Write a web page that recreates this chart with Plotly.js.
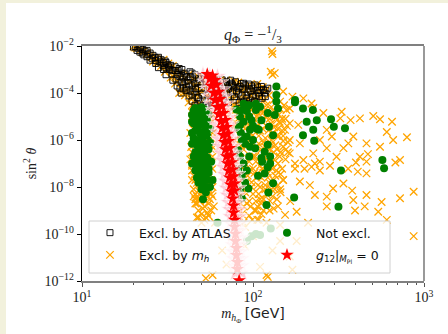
<!DOCTYPE html>
<html><head><meta charset="utf-8">
<script src="https://cdn.plot.ly/plotly-3.0.1.min.js"></script>
<style>html,body{margin:0;padding:0;background:#f2f1dc;width:448px;height:334px;overflow:hidden}#chart{position:absolute;left:6px;top:3px;width:442px;height:331px;background:#fff}</style>
</head><body><div id="chart"></div><script>
// Excluded by ATLAS: [m_hPhi (GeV), sin^2 theta]
const atlasPts = [[20,9e-3],[21.3,8e-3],[22.7,7e-3],[23.4,6e-3],[21.8,5.5e-3],[24.3,4.5e-3],[25,5e-3],[26.7,3.3e-3],[25.7,3e-3],[27.8,2.8e-3],[28.6,2.1e-3],[30.6,2.3e-3],[29.8,1.5e-3],[31.8,1.6e-3],[32.7,1e-3],[35,1.3e-3],[33.6,6.5e-4],[36.4,9e-4],[35.5,4e-4],[38.4,1e-3],[37.4,5e-4],[40,6.5e-4],[39,2.2e-4],[37.4,1.6e-4],[41.7,3.5e-4],[40.6,1.3e-4],[42.8,8e-4],[44,2.2e-4],[42.3,7.5e-5],[45.8,6e-4],[45.2,1.1e-4],[44,4.5e-5],[47.7,1.6e-4],[47.1,6.5e-5],[45.8,3e-5],[49,3e-4],[50.3,9e-5],[49,4.5e-5],[52.4,1.6e-4],[54.6,5e-5],[53.1,2.5e-5],[57.5,1.1e-4],[60,5e-5],[58.3,3e-5],[62.4,2.2e-4],[64.2,8e-5],[65.9,3.5e-5],[68.6,1.3e-4],[71.4,6.5e-5],[73.4,2.2e-4],[76.4,1.1e-4],[79.6,5e-5],[81.7,1.6e-4],[86.2,8e-5],[89.8,2.2e-4],[93.5,1.1e-4],[96,5e-5],[100,1.6e-4],[104,8e-5],[110,1.3e-4],[113,6e-5],[117,1e-4],[122,1.6e-4],[27,2.4e-3],[31,1.2e-3],[34,9e-4],[38,3e-4],[41,1.8e-4],[43,1.2e-4],[46,2.5e-4],[48,4e-4],[55,3e-4],[58,2.5e-4],[63,1.5e-4],[67,2.8e-4],[70,1e-4],[75,2.6e-4],[78,7e-5],[85,2.5e-4],[88,4e-5],[92,6e-5],[98,2e-4],[102,4.5e-5],[108,1e-4],[115,1.4e-4],[106,1.8e-4],[95,1.5e-4],[80,1.2e-4],[62,6e-5],[52,4e-4],[56,1.8e-4],[36,2e-4],[39,4.5e-4],[30,1.9e-3],[23,4.2e-3],
[20.5,9.5e-3],[22,8.5e-3],[21,6.5e-3],[22.5,5e-3],[24,6.5e-3],[24,3.5e-3],[26,4e-3],[25,2.5e-3],[27,1.8e-3],[28,3.3e-3],[29,2.6e-3],[28,1.2e-3],[30,1e-3],[31,2e-3],[32,1.3e-3],[31,6e-4],[33,1.5e-3],[34,3.5e-4],[35,9e-4],[36,6e-4],[37,1.1e-3],[38,7e-4],[38,1e-4],[39,1.5e-4],[40,3e-4],[41,5e-4],[42,2.5e-4],[43,5e-4],[44,7e-4],[44,9e-5],[46,1.5e-4],[47,3e-4],[48,6e-5],[50,5e-4],[50,1.3e-4],[51,3e-5],[53,3e-4],[55,8e-5],[57,4e-5],[59,1.6e-4],[61,3.5e-4],[61,9e-5],[63,4e-5],[65,1.9e-4],[66,3.6e-4],[67,5.5e-5],[69,2e-4],[72,1.5e-4],[72,4e-5],[74,3.5e-4],[77,1.8e-4],[79,3e-4],[82,1e-4],[83,4e-5],[87,1.6e-4],[88,2.6e-4],[91,8e-5],[94,2.4e-4],[97,1.2e-4],[99,7e-5],[103,2.2e-4],[106,1.3e-4],[109,7e-5],[112,1.9e-4],[118,7e-5],[119,1.3e-4],[76,2.2e-4],[70,3e-4],[84,1.9e-4],[93,3.5e-5]];

// Excluded by m_h
const mhPts = [[21,8e-3],[23,6e-3],[25,4e-3],[27,3e-3],[29,2e-3],[31,1.4e-3],[33,1e-3],[35,7e-4],[36,3e-4],[38,1.5e-4],[40,8e-5],[42,4e-5],[44,3e-5],[46,5e-5],[48,1e-4],[50,2e-4],[54,8e-5],[58,4e-5],[60,1.5e-4],[66,5e-5],[70,2e-4],[74,8e-5],[78,3e-4],[84,5e-5],[90,1.5e-4],[96,8e-5],[104,2e-4],[110,6e-5],[118,1.2e-4],[40,4e-4],[45,2e-4],[52,3e-4],[64,2.5e-4],[86,1.2e-4],[20,9.5e-3],[24,5e-3],[28,2.5e-3],[32,1.8e-3],[34,5e-4],[37,1e-4],[43,6e-5],[56,1e-4],[68,1e-4],[80,2e-4],[100,1e-4],[114,1.8e-4],
[20.5,8.5e-3],[22,7e-3],[22.5,5.5e-3],[24,4.5e-3],[25.5,3.3e-3],[26,2.2e-3],[27.5,2e-3],[29,1.4e-3],[30,2.6e-3],[30.5,8e-4],[32,1.1e-3],[33,4.5e-4],[34,1.4e-3],[35,2.5e-4],[36,1e-3],[37,4e-4],[38,7e-4],[39,1e-4],[40,2e-4],[41,1.2e-4],[42,6e-4],[43,3e-4],[44,1e-4],[45,4e-4],[46,8e-5],[47,2e-4],[48,5e-4],[49,3.5e-5],[50,1.1e-4],[51,4e-4],[53,1.8e-4],[55,5e-5],[57,2.5e-4],[59,8e-5],[62,3e-5],[62,1.2e-4],[64,3.5e-4],[66,1.6e-4],[68,6e-5],[70,3.5e-4],[72,1.1e-4],[75,4e-5],[76,1.6e-4],[79,9e-5],[82,2.8e-4],[85,3.5e-5],[88,9e-5],[89,2e-4],[93,5e-5],[95,2.2e-4],[99,1.4e-4],[102,6e-5],[106,2.4e-4],[108,1.5e-4],[112,9e-5],[116,5e-5],[120,1.5e-4],[124,8e-5],
[45,2.5e-5],[48,2e-5],[44,1.5e-5],[47,1e-5],[85,2.5e-5],[92,2e-5],[100,3e-5],[108,2.5e-5],[120,3e-5],[75,2e-5],[70,1.5e-5],[50,1.5e-5],[55,2e-5],[58,1.2e-5],[68,2.5e-5],[72,1e-5],[78,3e-5],[82,1.2e-5],[96,2.2e-5],[102,1.5e-5],[112,2e-5],[118,1e-5],[128,2.5e-5],[132,5e-5],
[44,1e-5],[44.5,3e-6],[45,1e-6],[44,3e-7],[45,1e-7],[44,5e-8],[46,2e-8],[45,8e-9],[47,4e-9],[46,2e-9],[48,1e-9],[47,5e-10],[50,3e-10],[52,4e-10],[55,2e-9],[53,6e-9],[50,1e-8],[56,1.5e-8],[52,3e-8],[58,6e-8],[55,1e-7],[51,2e-7],[57,4e-7],[53,1e-6],[58,2e-6],[49,5e-6],[56,8e-6],[50,1.5e-8],[48,7e-9],[54,8e-10],[57,5e-9],[59,1.5e-9],[46,3e-9],[49,2.5e-9],[51,1.2e-9],
[43,2e-6],[43.5,5e-7],[43,1.5e-7],[44,2e-8],[44,8e-8],[45,3e-8],[46,5e-9],[47,1.5e-8],[48,3e-9],[49,1.2e-8],[50,4e-9],[51,6e-9],[52,1.5e-9],[53,2.5e-9],[54,4e-9],[55,8e-9],[56,3e-9],[57,1e-9],[58,4e-9],[48,5e-10],[50,7e-10],[53,5e-10],[55,6e-10],[45,4e-9],[47,2e-9],[49,4e-8],[51,5e-8],[53,1.2e-8],[55,2.5e-8],[57,2e-8],[58,1e-8],[47,4e-7],[50,3e-6],[53,4e-6],[55,2e-6],[57,1.2e-6],[46,1.5e-5],[52,1.2e-5],[56,5e-6],[58,5e-7],[58,2e-7],
[76,5e-5],[80,2e-5],[88,1e-5],[95,1.5e-5],[105,1e-5],[115,1.5e-5],[125,8e-6],[135,1e-5],[145,2e-5],[80,5e-6],[90,3e-6],[100,5e-6],[110,2.5e-6],[120,4e-6],[130,2e-6],[140,3e-6],[150,1.5e-6],[78,1e-6],[85,6e-7],[95,1e-6],[105,5e-7],[115,8e-7],[125,4e-7],[135,6e-7],[145,3e-7],[160,8e-7],[82,2e-7],[90,1e-7],[100,2e-7],[110,8e-8],[120,1.5e-7],[130,6e-8],[140,1e-7],[155,1.5e-7],[78,4e-8],[86,2e-8],[95,5e-8],[105,2.5e-8],[115,4e-8],[125,1.5e-8],[135,3e-8],[150,2e-8],[80,8e-9],[88,4e-9],[98,1e-8],[108,5e-9],[118,8e-9],[130,4e-9],[145,6e-9],[82,1.5e-9],[92,2e-9],[102,1e-9],[112,2e-9],[125,1e-9],[140,1.5e-9],[84,5e-10],[95,6e-10],[108,4e-10],[120,3e-10],[88,3e-10],
[77,3e-5],[83,1.5e-5],[92,8e-6],[97,2e-5],[103,7e-6],[108,1.3e-5],[113,6e-6],[118,2e-5],[123,1.2e-5],[128,5e-6],[133,1.6e-5],[138,7e-6],[142,1.2e-5],[148,8e-6],[152,3e-5],[158,4e-6],[77,3e-6],[82,8e-6],[87,4e-6],[93,5e-6],[97,2e-6],[103,3.5e-6],[108,1.5e-6],[114,3e-6],[118,1.2e-6],[123,2.5e-6],[128,1e-6],[133,3.5e-6],[138,1.5e-6],[143,6e-6],[148,2.5e-6],[155,8e-6],[80,6e-7],[84,1.5e-6],[88,4e-7],[93,7e-7],[99,1.5e-6],[103,2e-7],[108,7e-7],[112,4e-7],[118,5e-7],[122,2.5e-7],[128,7e-7],[132,3e-7],[138,4e-7],[142,1.5e-6],[150,9e-7],[156,4e-7],[80,1.2e-7],[85,3e-7],[90,5e-8],[95,1.2e-7],[100,6e-8],[104,1.2e-7],[108,3e-8],[113,6e-8],[117,1.8e-7],[122,4e-8],[128,1e-7],[133,1.5e-7],[137,5e-8],[143,2e-7],[148,6e-8],[160,3e-7],[80,2e-8],[84,5e-8],[89,1.2e-8],[93,3e-8],[98,1.6e-8],[102,4e-8],[107,1.2e-8],[112,2.5e-8],[118,1.2e-8],[122,2.5e-8],[128,8e-9],[132,2e-8],[140,1.2e-8],[145,3.5e-8],[82,4e-9],[86,1e-8],[90,6e-9],[95,2.5e-9],[100,5e-9],[104,2.5e-9],[110,1e-8],[115,3e-9],[120,5e-9],[126,2.5e-9],[134,8e-9],[138,3e-9],[83,1e-9],[88,1.5e-9],[97,1.5e-9],[106,1.5e-9],[115,1e-9],[132,1.2e-9],[86,7e-10],[99,4e-10],[112,7e-10],[90,2e-10],
[129,6e-3],[130,4.6e-3],[127,8e-4],[130,6e-4],[134,7e-4],[150,1.15e-4],[170,7e-5],[197,5.9e-5],[220,3.6e-5],[225,2.3e-5],[258,1.4e-5],[330,1.6e-5],[324,8.3e-6],[372,7e-6],[422,8.3e-6],[505,1.05e-5],[553,7.6e-6],[650,6e-6],[795,1.3e-6],[606,2.2e-6],[660,1e-6],[553,5.2e-7],[461,7.2e-7],[386,1.4e-6],[361,7.2e-7],[338,4.5e-7],[422,1.95e-7],[308,1.95e-7],[289,1.4e-6],[270,2.7e-6],[246,1e-6],[270,4.5e-7],[225,2.7e-7],[246,1.2e-7],[197,1.4e-7],[220,7.2e-8],[176,1e-7],[188,7.2e-7],[164,1e-6],[150,5.2e-7],[164,2.7e-7],[154,2.7e-6],[144,5.1e-6],[164,5.1e-6],[184,4.4e-6],[157,1.9e-5],[144,4.3e-5],[164,2.2e-5],[461,1.2e-7],[470,2.5e-7],
[724,1.4e-7],[680,1.1e-7],[870,6.3e-9],[724,3.3e-9],[870,8.1e-11],[565,2.3e-9],[606,4e-10],[540,8.9e-10],[386,2.8e-9],[395,1e-9],[450,1.5e-9],[461,4.6e-9],[380,7e-9],[270,3.9e-9],[270,1.5e-9],[294,8.7e-9],[338,1.4e-8],[230,4.6e-9],[215,1.2e-8],[188,1.7e-8],[180,8.9e-10],[154,6.5e-10],[165,2.5e-9],[144,8e-9],[144,2.4e-10],[230,1e-7],[200,6e-8],[246,5e-8],[282,8e-8],[400,1.1e-7],[410,4.5e-8],[461,3.8e-8],[360,6e-8],[176,6e-8],[150,2e-8],[110,3e-9],[104,1e-9],[106,4e-10],
[144,5e-11],[164,1.1e-11],[120,1.8e-12],[122,1.5e-12],[53,1.3e-12],[58,1.8e-12],[70,5e-12],[66,2e-11],[75,8e-11],[60,3e-10],[110,4e-12],[130,2e-11],[180,5e-11],[100,8e-11],[90,3e-11],[210,3e-10],[170,3e-12]];

// Not excluded
const okPts = [[45,1.8e-5],[48,2e-5],[51,1.6e-5],[46,1e-5],[49,8e-6],[52,9e-6],[55,1.2e-5],[45,5e-6],[48,4e-6],[51,5e-6],[54,6e-6],[46,2.5e-6],[49,2e-6],[52,2.5e-6],[56,3e-6],[45,1.2e-6],[48,1e-6],[51,1.3e-6],[54,1.5e-6],[47,6e-7],[50,5e-7],[53,7e-7],[56,8e-7],[46,3e-7],[49,2.5e-7],[52,3e-7],[55,4e-7],[48,1.2e-7],[51,1.5e-7],[54,1.8e-7],[47,6e-8],[50,7e-8],[53,8e-8],[57,1.2e-7],[49,3e-8],[52,3.5e-8],[55,4e-8],[51,1.6e-8],[54,2e-8],[50,8e-9],[53,6e-9],[58,2e-8],[46,2.3e-5],[50,2.5e-5],
[44,1.2e-5],[47,1.4e-5],[53,1.9e-5],[44,6e-6],[47,7e-6],[50,1.1e-5],[53,4e-6],[44,2e-6],[47,3e-6],[50,1.5e-6],[53,2e-6],[44,7e-7],[48,5e-7],[51,8e-7],[54,4e-7],[45,2e-7],[48,2.5e-7],[51,3.5e-7],[44,1e-7],[46,1.2e-7],[50,1.1e-7],[53,1.5e-7],[46,5e-8],[49,5e-8],[52,6e-8],[47,2.5e-8],[50,2e-8],[53,3e-8],[48,1.5e-8],[52,1e-8],[56,1e-8],[55,6e-8],[51,3e-9],
[137,1.9e-4],[137,8.3e-5],[137,4.3e-5],[176,5e-5],[176,4e-5],[196,2.2e-5],[224,1.9e-5],[236,7e-6],[286,7.6e-6],[297,3.7e-6],[345,3.2e-6],[206,6e-6],[225,2.7e-6],[196,1.6e-6],[228,9.3e-7],[110,2.6e-5],[122,1.4e-5],[134,1.15e-5],[140,2.2e-5],[124,3.7e-6],[112,7e-6],[108,2.7e-6],[131,1.6e-6],[122,6.3e-7],[117,3.2e-7],[112,1.7e-7],[103,4.5e-7],[96,5.2e-7],[92,1.4e-6],[96,2.7e-6],[98,7e-6],[86,1.9e-5],[92,1.7e-5],[104,1.9e-5],[571,1.4e-7],[584,6.3e-8],[122,7e-8],[84,4.4e-6],[82,3e-6],[86,1e-6],[82,3.7e-7],
[327,5e-8],[174,3.6e-9],[316,1.45e-9],[120,1.7e-9],[123,5.8e-9],[131,1.45e-8],[94,8.7e-9],[86,3.3e-9],[126,2e-7],[126,1e-7],[113,1.2e-7],[117,3.8e-8],[107,3e-8],
[80,2e-5],[84,1e-5],[88,6e-6],[90,3e-5],[95,1e-5],[100,4e-6],[85,2e-6],[90,7e-7],[84,2e-7],[88,1e-7],[92,5e-8],[86,3e-8],[95,2e-7],[100,1e-6],[105,3e-6],[82,6e-8],[90,1.5e-8],[84,8e-9],[95,3e-5],[104,3.5e-5],[88,3.5e-5],
[62,3e-10],[98,8e-11],[110,9e-11],[92,5e-11],[127,1.7e-10],[104,1e-10]];

// g12|_MPl = 0 points (solid) and their lighter surrounding samples
const starPts = [[54,6.3e-4],[58,5.5e-4],[56,4e-4],[60,3.5e-4],[57,2e-4],[61,2.2e-4],[59,1e-4],[63,1.1e-4],[60,5e-5],[64,5.5e-5],[62,2.5e-5],[66,2.8e-5],[63,1.25e-5],[67,1.4e-5],[65,6.3e-6],[69,7e-6],[66,3.2e-6],[70,3.5e-6],[67,1.6e-6],[71,1.8e-6],[68,8e-7],[72,9e-7],[69,4e-7],[73,4.5e-7],[70,2e-7],[74,2.2e-7],[71,1e-7],[75,1.1e-7],[72,5e-8],[76,5.5e-8],[73,2.5e-8],[77,2.8e-8],[74,1.25e-8],[78,1.4e-8],[75,6.3e-9],[78,7e-9],[76,3.2e-9],[77,1.6e-9],[77,8e-10],[78,4e-10],[78,2e-10],[79,1e-10],[79,5e-11],[80,2.5e-11],[80,1.25e-11],[81,6.3e-12],[81,3.2e-12],[83,1.05e-12]];
const glowPts = [[51,6e-4],[62,5e-4],[53,3e-4],[64,2.8e-4],[55,1.5e-4],[66,1.4e-4],[56,7e-5],[68,7e-5],[57,3.5e-5],[70,3.5e-5],[59,1.8e-5],[71,1.8e-5],[60,9e-6],[73,9e-6],[61,4.5e-6],[74,4.5e-6],[62,2.2e-6],[75,2.2e-6],[63,1.1e-6],[76,1.1e-6],[64,5.5e-7],[77,5.5e-7],[65,2.8e-7],[78,2.8e-7],[66,1.4e-7],[79,1.4e-7],[67,7e-8],[80,7e-8],[68,3.5e-8],[81,3.5e-8],[69,1.8e-8],[81,1.8e-8],[70,9e-9],[82,9e-9],[71,4.5e-9],[82,4.5e-9],[72,2.2e-9],[82,2.2e-9],[73,1.1e-9],[83,1.1e-9],[74,5.5e-10],[83,5.5e-10],[74,2.8e-10],[84,2.8e-10],[75,1.4e-10],[84,1.4e-10],[75,7e-11],[85,7e-11],[76,3.5e-11],[85,3.5e-11],[76,1.8e-11],[85,1.8e-11],[77,9e-12],[86,9e-12],[77,4.5e-12],[86,4.5e-12],[79,2.2e-12],[86,2.2e-12],
[56,5e-4],[58,2.8e-4],[61,1.4e-4],[62,7e-5],[64,3.5e-5],[65,1.8e-5],[67,9e-6],[68,4.5e-6],[69,2.2e-6],[70,1.1e-6],[71,5.5e-7],[72,2.8e-7],[73,1.4e-7],[74,7e-8],[75,3.5e-8],[76,1.8e-8],[76,9e-9],[77,4.5e-9],[78,2.2e-9],[78,1.1e-9],[79,5.5e-10],[79,2.8e-10],[80,1.4e-10],[80,7e-11],[81,3.5e-11],[81,1.8e-11],[82,9e-12],[82,4.5e-12]];

const xTickVals = [10, 100, 1000];
const xTickText = ['10<sup>1</sup>', '10<sup>2</sup>', '10<sup>3</sup>'];
const xMinorVals = [20,30,40,50,60,70,80,90,200,300,400,500,600,700,800,900];
const yTickVals = [1e-12, 1e-10, 1e-8, 1e-6, 1e-4, 1e-2];
const yTickText = ['10<sup>−12</sup>', '10<sup>−10</sup>', '10<sup>−8</sup>', '10<sup>−6</sup>', '10<sup>−4</sup>', '10<sup>−2</sup>'];

const xs = p => p.map(d => d[0]);
const ys = p => p.map(d => d[1]);
const serif = 'Liberation Serif, DejaVu Serif, serif';
const sans = 'DejaVu Sans, sans-serif';

const traces = [
  {type:'scatter', mode:'markers', x:xs(mhPts), y:ys(mhPts), name:'Excl. by <i>m<sub>h</sub></i>',
   legend:'legend', legendrank:2, legendgroup:'b',
   marker:{symbol:'x-thin-open', size:7.5, color:'#ffa500', line:{color:'#ffa500', width:1.3}}},
  {type:'scatter', mode:'markers', x:xs(atlasPts), y:ys(atlasPts), name:'Excl. by ATLAS',
   legend:'legend', legendrank:1, legendgroup:'a',
   marker:{symbol:'square-open', size:6, color:'#000', line:{color:'#000', width:0.9}}},
  {type:'scatter', mode:'markers', x:xs(okPts), y:ys(okPts), name:'Not excl.',
   legend:'legend2', legendrank:1, legendgroup:'c',
   marker:{symbol:'circle', size:8, color:'#008000'}},
  {type:'scatter', mode:'markers', x:xs(glowPts), y:ys(glowPts), showlegend:false, hoverinfo:'skip',
   marker:{symbol:'star', size:13, color:'rgba(255,170,185,0.55)', line:{color:'rgba(255,255,255,0.85)', width:0.7}}},
  {type:'scatter', mode:'markers', x:xs(starPts), y:ys(starPts), name:'<i>g</i><sub>12</sub>|<sub><i>M</i><sub>Pl</sub></sub> = 0',
   legend:'legend2', legendrank:2, legendgroup:'d',
   marker:{symbol:'star', size:10, color:'#ff0000'}}
];

const legendCommon = {
  orientation:'v', yanchor:'top', y:0.268, xanchor:'left',
  bgcolor:'rgba(0,0,0,0)', borderwidth:0, itemwidth:48,
  traceorder:'grouped', tracegroupgap:3,
  font:{family:sans, size:12.5, color:'#111'}
};

const layout = {
  width:442, height:331,
  margin:{l:76, r:24, t:43, b:53},
  paper_bgcolor:'#fff', plot_bgcolor:'#fff',
  title:{text:'<i>q</i><sub>Φ</sub> = −<sup>1</sup>/<sub>3</sub>', x:0.5, xref:'paper', xanchor:'center',
         y:0.905, yref:'container', yanchor:'middle', font:{family:serif, size:16, color:'#222'}},
  xaxis:{type:'log', range:[1,3], tickmode:'array', tickvals:xTickVals, ticktext:xTickText,
         ticks:'outside', ticklen:4, tickwidth:1, tickcolor:'#555', ticklabelstandoff:-1,
         minor:{tickmode:'array', tickvals:xMinorVals, ticks:'outside', ticklen:2.5, tickcolor:'#555', showgrid:false},
         showline:true, linecolor:'#808080', linewidth:1.6, mirror:true, showgrid:false, zeroline:false,
         tickfont:{family:serif, size:14, color:'#222'},
         title:{text:'<i>m</i><sub><i>h</i><sub>Φ</sub></sub> <span style="font-family:DejaVu Sans">[GeV]</span>', standoff:0,
                font:{family:serif, size:14, color:'#222'}}},
  yaxis:{type:'log', range:[-12,-2], tickmode:'array', tickvals:yTickVals, ticktext:yTickText,
         ticks:'outside', ticklen:4, tickwidth:1, tickcolor:'#000',
         showline:true, linecolor:'#000', linewidth:1.4, mirror:false, showgrid:false, zeroline:false,
         tickfont:{family:serif, size:14, color:'#222'},
         title:{text:'sin<sup>2</sup> <i>θ</i>', standoff:4, font:{family:serif, size:14, color:'#222'}}},
  shapes:[
    {type:'line', xref:'paper', yref:'paper', x0:1, x1:1, y0:0, y1:1, line:{color:'#808080', width:1.6}},
    {type:'rect', xref:'paper', yref:'paper', x0:0.0205, x1:0.9006, y0:0.034, y1:0.2553, layer:'above',
     fillcolor:'rgba(255,255,255,0.8)', line:{color:'#d0d0d0', width:1}}
  ],
  showlegend:true,
  legend:Object.assign({}, legendCommon, {x:-0.003}),
  legend2:Object.assign({}, legendCommon, {x:0.5146})
};

Plotly.newPlot('chart', traces, layout, {displayModeBar:false, staticPlot:true});
</script></body></html>
